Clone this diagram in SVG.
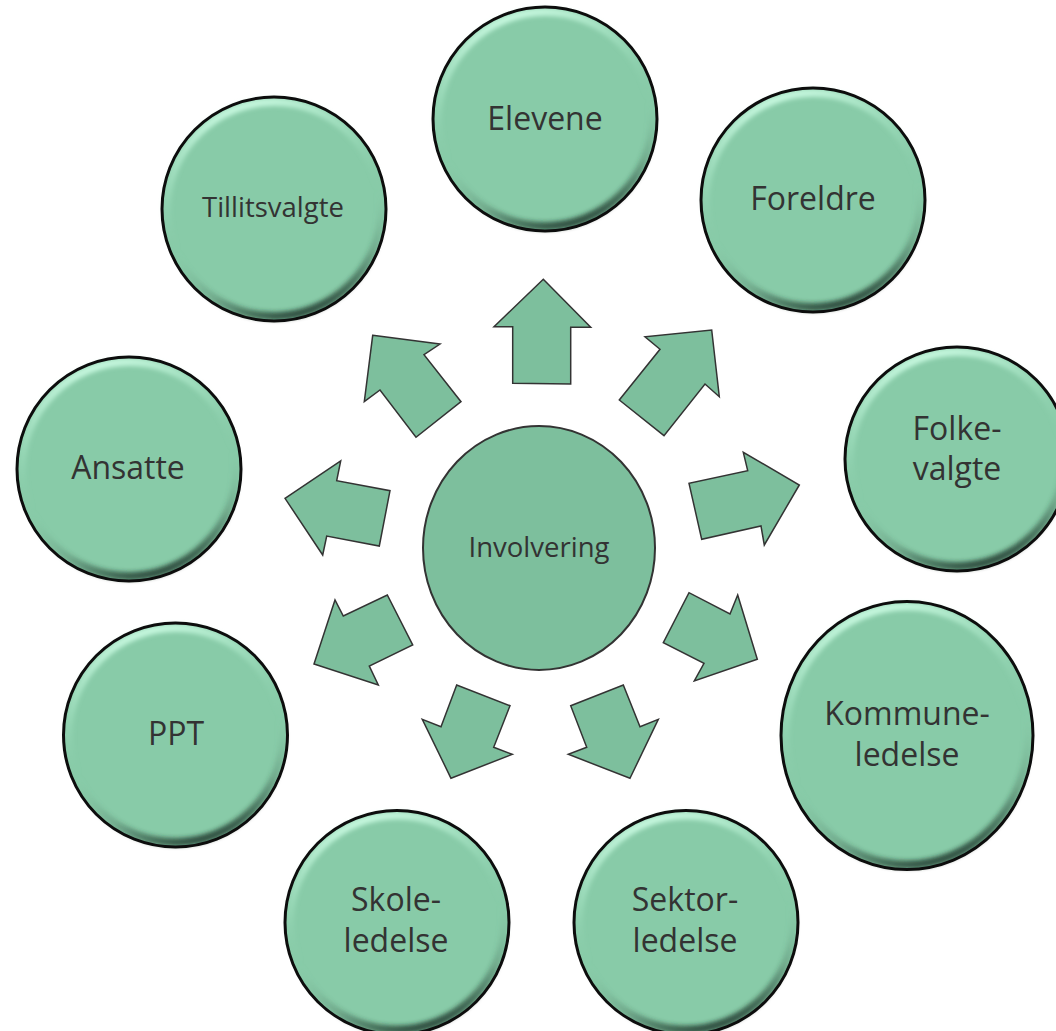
<svg xmlns="http://www.w3.org/2000/svg" width="1056" height="1031" viewBox="0 0 1056 1031">
<defs>
<linearGradient id="bevel" x1="0.35" y1="0" x2="0.65" y2="1">
<stop offset="0" stop-color="#c8f9e0" stop-opacity="1"/>
<stop offset="0.3" stop-color="#a8e6c6" stop-opacity="0.4"/>
<stop offset="0.55" stop-color="#88cba8" stop-opacity="0"/>
<stop offset="0.8" stop-color="#2e4d3d" stop-opacity="0.25"/>
<stop offset="1" stop-color="#1a2e24" stop-opacity="0.85"/>
</linearGradient>
<filter id="soft" x="-10%" y="-10%" width="120%" height="120%">
<feGaussianBlur stdDeviation="2"/>
</filter>
</defs>
<style>
.node{fill:#88cba8;}
.bev{fill:none;stroke:url(#bevel);stroke-width:8;filter:url(#soft);}
.rim{fill:none;stroke:#0d0d0d;stroke-width:3;}
.lbl{font-family:"Open Sans","Liberation Sans",sans-serif;font-size:32px;fill:#333333;text-anchor:middle;}
.sm{font-size:27.5px;}
.arrow{fill:#7dbf9d;stroke:#333333;stroke-width:1.5;stroke-linejoin:miter;}
.hub{fill:#7dbf9d;stroke:#333333;stroke-width:2;}
</style>

<g id="connectors">
<polygon class="arrow" points="543.3,279.3 590.7,327.3 570.7,327.3 570.7,384 512.7,383.3 512.7,326.7 494,326.7"/>
<polygon class="arrow" points="372.7,335.3 440,344 424,354.7 461,401.7 416,437.3 380,390 364.3,401.7"/>
<polygon class="arrow" points="711.7,330 719.3,396.7 705,384 664,435.7 619.3,400 660,349.3 645,336.7"/>
<polygon class="arrow" points="799.3,485 764.3,545 761,526 701.7,539.3 689,483.3 747.7,470.7 743.3,452.3"/>
<polygon class="arrow" points="285,498.3 340.7,461 336.7,480.7 390,490.7 379.3,546 326.7,536 322.7,555"/>
<polygon class="arrow" points="314,664 335,600 343.3,616 387.3,595 412.7,645 369.3,666 378.3,685"/>
<polygon class="arrow" points="757.3,659.3 737.7,595 730,614 689,592.7 663.3,642.7 704,663.3 694.3,681"/>
<polygon class="arrow" points="451,778.3 422.3,719.3 441,726.7 456.7,685 510,705.7 493.7,747.3 512.3,754.3"/>
<polygon class="arrow" points="630,778.3 658.3,719.3 640,726.7 623.3,685 570.7,705.7 586.7,747.3 568.3,754.3"/>
</g>

<g id="involvering">
<ellipse class="hub" cx="539" cy="548" rx="116" ry="122"/>
<text class="lbl sm" x="539" y="557">Involvering</text>
</g>

<g id="elevene">
<circle class="node" cx="545" cy="119" r="112"/>
<circle class="bev" cx="545" cy="119" r="107"/>
<circle class="rim" cx="545" cy="119" r="112"/>
<text class="lbl" x="545" y="130">Elevene</text>
</g>

<g id="tillitsvalgte">
<circle class="node" cx="274" cy="209" r="112"/>
<circle class="bev" cx="274" cy="209" r="107"/>
<circle class="rim" cx="274" cy="209" r="112"/>
<text class="lbl sm" x="273" y="217">Tillitsvalgte</text>
</g>

<g id="foreldre">
<circle class="node" cx="813" cy="200" r="112"/>
<circle class="bev" cx="813" cy="200" r="107"/>
<circle class="rim" cx="813" cy="200" r="112"/>
<text class="lbl" x="813" y="210">Foreldre</text>
</g>

<g id="folkevalgte">
<circle class="node" cx="957" cy="459" r="112"/>
<circle class="bev" cx="957" cy="459" r="107"/>
<circle class="rim" cx="957" cy="459" r="112"/>
<text class="lbl" x="957" y="440">Folke-</text>
<text class="lbl" x="957" y="480">valgte</text>
</g>

<g id="ansatte">
<circle class="node" cx="129" cy="469" r="112"/>
<circle class="bev" cx="129" cy="469" r="107"/>
<circle class="rim" cx="129" cy="469" r="112"/>
<text class="lbl" x="128" y="479">Ansatte</text>
</g>

<g id="ppt">
<circle class="node" cx="175.5" cy="735" r="112"/>
<circle class="bev" cx="175.5" cy="735" r="107"/>
<circle class="rim" cx="175.5" cy="735" r="112"/>
<text class="lbl" x="176" y="745">PPT</text>
</g>

<g id="kommuneledelse">
<ellipse class="node" cx="907" cy="735.5" rx="126" ry="134"/>
<ellipse class="bev" cx="907" cy="735.5" rx="121" ry="129"/>
<ellipse class="rim" cx="907" cy="735.5" rx="126" ry="134"/>
<text class="lbl" x="907" y="725">Kommune-</text>
<text class="lbl" x="907" y="766">ledelse</text>
</g>

<g id="skoleledelse">
<circle class="node" cx="397" cy="922.5" r="112"/>
<circle class="bev" cx="397" cy="922.5" r="107"/>
<circle class="rim" cx="397" cy="922.5" r="112"/>
<text class="lbl" x="396" y="911">Skole-</text>
<text class="lbl" x="396" y="952">ledelse</text>
</g>

<g id="sektorledelse">
<circle class="node" cx="686" cy="922.5" r="112"/>
<circle class="bev" cx="686" cy="922.5" r="107"/>
<circle class="rim" cx="686" cy="922.5" r="112"/>
<text class="lbl" x="685" y="911">Sektor-</text>
<text class="lbl" x="685" y="952">ledelse</text>
</g>
</svg>
